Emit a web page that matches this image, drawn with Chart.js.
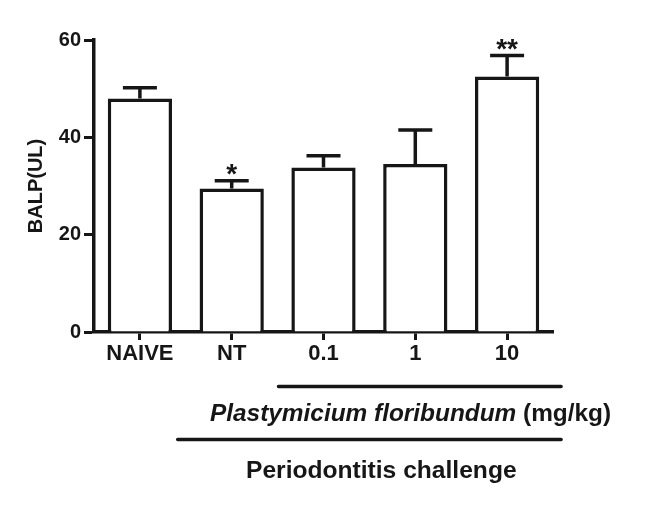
<!DOCTYPE html>
<html>
<head>
<meta charset="utf-8">
<script src="https://cdn.jsdelivr.net/npm/chart.js@4"></script>
<style>
  html, body { margin: 0; padding: 0; background: #fff; }
  #wrap { width: 658px; height: 512px; }
</style>
</head>
<body>
<div id="wrap"><canvas id="canvas" width="658" height="512"></canvas></div>
<script>
var groups = ['NAIVE', 'NT', '0.1', '1', '10'];
var balpMean = [48.0, 29.5, 33.8, 34.5, 52.5];
var balpSem = [2.2, 1.6, 2.4, 7.0, 4.3];
var signif = ['', '*', '', '', '**'];
var yTicks = [0, 20, 40, 60];

var ink = '#161616';
var fontFam = '"Liberation Sans", Arial, Helvetica, sans-serif';

// error bars (upper half only) + significance stars
var errorBars = {
    id: 'errorBars',
    afterDatasetsDraw: function (chart) {
        var ctx = chart.ctx;
        var x = chart.scales.x, y = chart.scales.y;
        ctx.save();
        ctx.strokeStyle = ink;
        ctx.lineWidth = 3.5;
        ctx.lineCap = 'butt';
        for (var i = 0; i < balpMean.length; i++) {
            var cx = x.getPixelForValue(i);
            var y0 = y.getPixelForValue(balpMean[i]);
            var y1 = y.getPixelForValue(balpMean[i] + balpSem[i]);
            ctx.beginPath();
            ctx.moveTo(cx, y0);
            ctx.lineTo(cx, y1);
            ctx.moveTo(cx - 17, y1);
            ctx.lineTo(cx + 17, y1);
            ctx.stroke();
            if (signif[i]) {
                ctx.fillStyle = ink;
                ctx.font = 'bold 28px ' + fontFam;
                ctx.textAlign = 'center';
                ctx.textBaseline = 'alphabetic';
                ctx.fillText(signif[i], cx, y1 + 2.5);
            }
        }
        ctx.restore();
    }
};

// treatment brackets under the x axis
var brackets = {
    id: 'brackets',
    afterDraw: function (chart) {
        var ctx = chart.ctx;
        var x = chart.scales.x;
        var base = chart.chartArea.bottom;
        ctx.save();
        ctx.strokeStyle = ink;
        ctx.fillStyle = ink;
        ctx.lineWidth = 3.5;
        ctx.lineCap = 'round';
        ctx.beginPath();
        ctx.moveTo(x.getPixelForValue(2) - 45, base + 54.5);
        ctx.lineTo(x.getPixelForValue(4) + 54, base + 54.5);
        ctx.moveTo(x.getPixelForValue(1) - 54, base + 107.5);
        ctx.lineTo(x.getPixelForValue(4) + 54, base + 107.5);
        ctx.stroke();

        ctx.textBaseline = 'alphabetic';
        ctx.textAlign = 'left';
        var tx = 210;
        ctx.font = 'italic bold 24.4px ' + fontFam;
        ctx.fillText('Plastymicium floribundum', tx, base + 89);
        tx += ctx.measureText('Plastymicium floribundum ').width;
        ctx.font = 'bold 24.4px ' + fontFam;
        ctx.fillText('(mg/kg)', tx, base + 89);

        ctx.font = 'bold 24.6px ' + fontFam;
        ctx.fillText('Periodontitis challenge', 246, base + 145.5);
        ctx.restore();
    }
};

window.onload = function () {
    var ctx = document.getElementById('canvas').getContext('2d');
    window.myBar = new Chart(ctx, {
        type: 'bar',
        data: {
            labels: groups,
            datasets: [{
                label: 'BALP',
                data: balpMean,
                backgroundColor: '#ffffff',
                borderColor: ink,
                borderWidth: 3.5,
                borderSkipped: 'start',
                barPercentage: 0.7,
                categoryPercentage: 1.0
            }]
        },
        options: {
            responsive: false,
            animation: false,
            layout: { padding: { top: 40, right: 105, bottom: 0, left: 0 } },
            plugins: {
                legend: { display: false },
                tooltip: { enabled: false },
                title: { display: false }
            },
            scales: {
                x: {
                    afterFit: function (s) { s.height = 180; },
                    grid: {
                        offset: false,
                        drawOnChartArea: false,
                        drawTicks: true,
                        tickLength: 8,
                        tickWidth: 3,
                        tickColor: ink
                    },
                    border: { display: true, width: 3.5, color: ink },
                    ticks: {
                        color: ink,
                        padding: 1,
                        font: { family: fontFam, size: 22, weight: 'bold' },
                        maxRotation: 0
                    }
                },
                y: {
                    min: 0,
                    max: 60,
                    afterFit: function (s) { s.width = 94; },
                    afterBuildTicks: function (s) {
                        s.ticks = yTicks.map(function (v) { return { value: v }; });
                    },
                    grid: {
                        drawOnChartArea: false,
                        drawTicks: true,
                        tickLength: 10,
                        tickWidth: 3,
                        tickColor: ink
                    },
                    border: { display: true, width: 3.5, color: ink },
                    ticks: {
                        color: ink,
                        padding: 3,
                        font: { family: fontFam, size: 20, weight: 'bold' }
                    },
                    title: {
                        display: true,
                        text: 'BALP(UL)',
                        color: ink,
                        padding: { top: 24, bottom: 0 },
                        font: { family: fontFam, size: 20, weight: 'bold' }
                    }
                }
            }
        },
        plugins: [errorBars, brackets]
    });
};
</script>
</body>
</html>
